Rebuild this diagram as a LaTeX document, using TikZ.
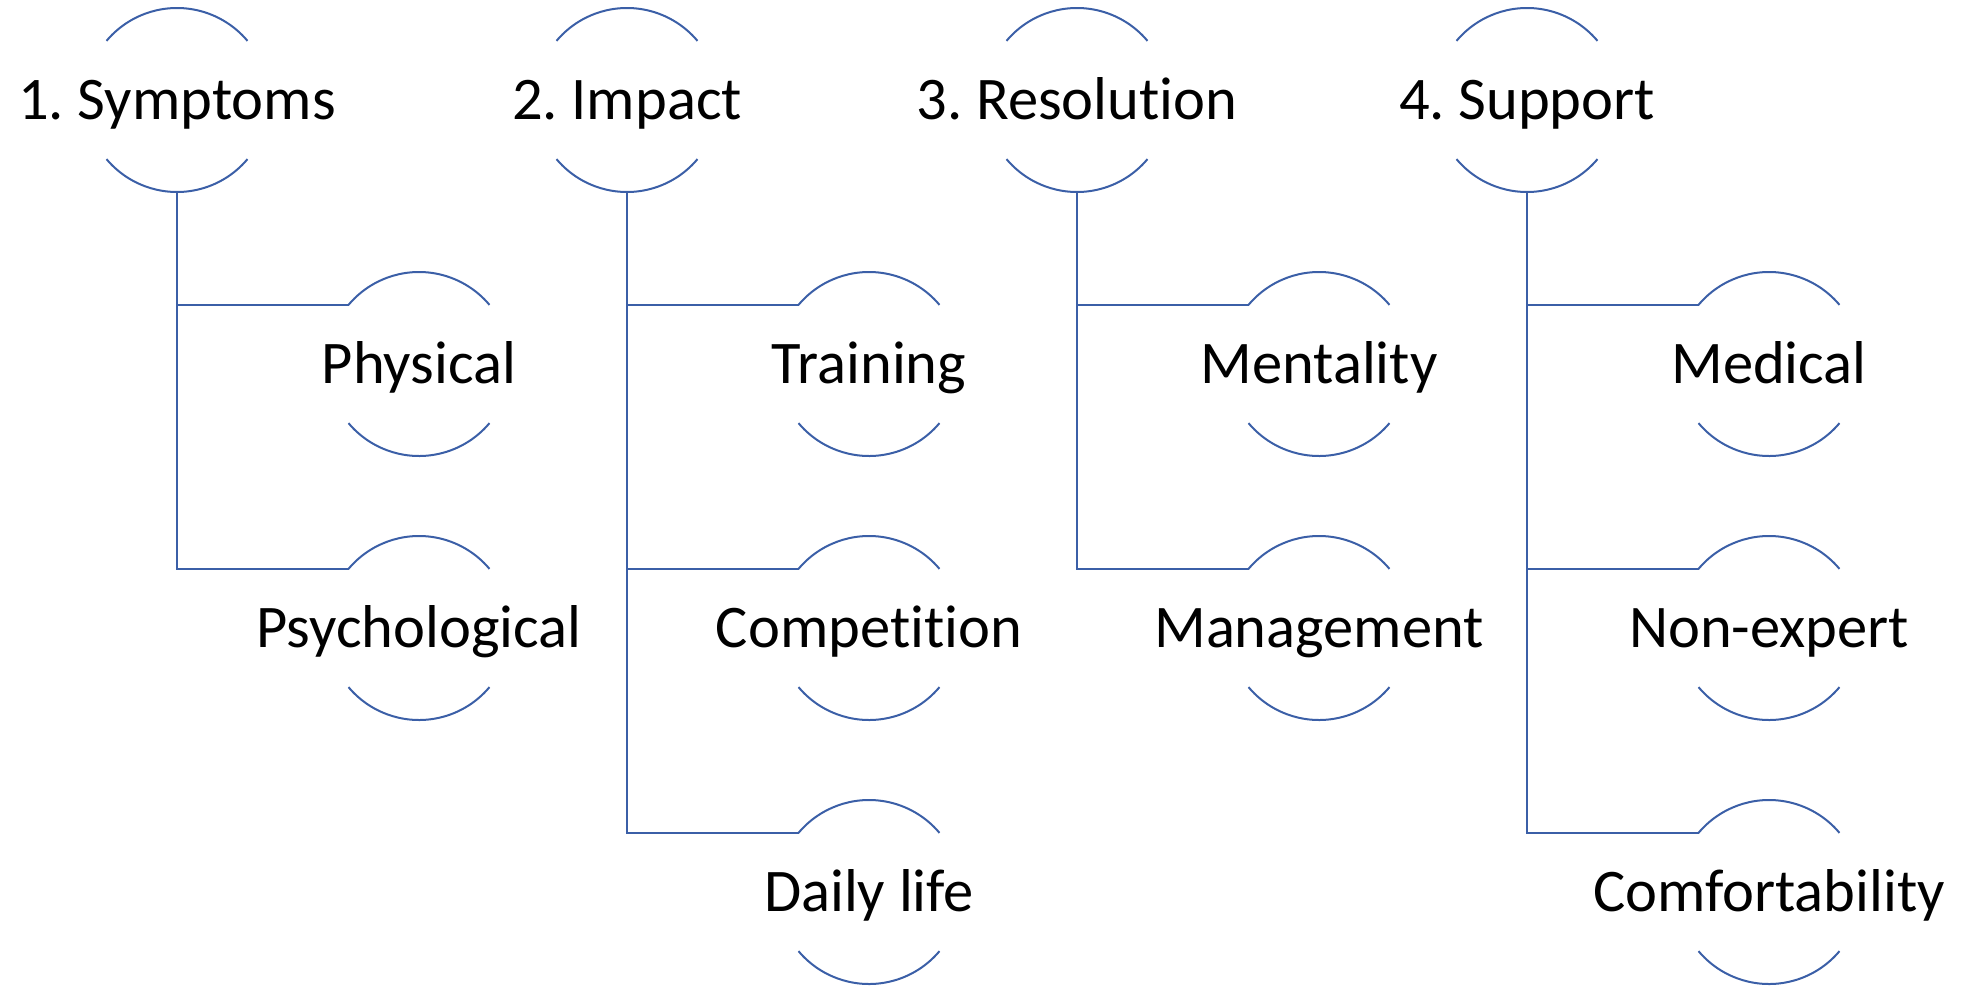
\documentclass[tikz,border=0pt]{standalone}
\usepackage{fontspec}
\setmainfont{Carlito}[Ligatures={NoCommon}]
\usetikzlibrary{positioning,calc}

\definecolor{linkblue}{HTML}{3B5FA7}

\tikzset{
  topic/.style={inner sep=0pt, text height=39pt, text depth=0pt,
    font=\fontsize{60.5}{72}\selectfont},
  link/.style={draw=linkblue, line width=2pt},
}
% radius of the open rings round each topic
\newcommand{\ringr}{92pt}

\begin{document}
\frenchspacing
\begin{tikzpicture}[x=1pt,y=1pt]
  \useasboundingbox (0,0) rectangle (1965,-988);

  % Main themes
  \node[topic] (r1) at (177,-100)  {1. Symptoms};
  \node[topic] (r2) at (627,-100)  {2. Impact};
  \node[topic] (r3) at (1077,-100) {3. Resolution};
  \node[topic] (r4) at (1527,-100) {4. Support};

  % Sub-themes
  \node[topic] (s11) at ($(r1)+(242,-264)$) {Physical};
  \node[topic] (s12) at ($(r1)+(242,-528)$) {Psychological};
  \node[topic] (s21) at ($(r2)+(242,-264)$) {Training};
  \node[topic] (s22) at ($(r2)+(242,-528)$) {Competition};
  \node[topic] (s23) at ($(r2)+(242,-792)$) {Daily life};
  \node[topic] (s31) at ($(r3)+(242,-264)$) {Mentality};
  \node[topic] (s32) at ($(r3)+(242,-528)$) {Management};
  \node[topic] (s41) at ($(r4)+(242,-264)$) {Medical};
  \node[topic] (s42) at ($(r4)+(242,-528)$) {Non-expert};
  \node[topic] (s43) at ($(r4)+(242,-792)$) {Comfortability};

  % Open rings above and below every label
  \foreach \n in {r1,r2,r3,r4,s11,s12,s21,s22,s23,s31,s32,s41,s42,s43}
    \draw[link] ([shift={(140:\ringr)}]\n.center) arc[start angle=140, end angle=40, radius=\ringr]
                ([shift={(220:\ringr)}]\n.center) arc[start angle=220, end angle=320, radius=\ringr];

  % Tree connectors
  \foreach \p/\c in {r1/s11,r1/s12,r2/s21,r2/s22,r2/s23,r3/s31,r3/s32,r4/s41,r4/s42,r4/s43}
    \draw[link] ([yshift=-\ringr]\p.center) |- ([shift={(140:\ringr)}]\c.center);
\end{tikzpicture}
\end{document}
